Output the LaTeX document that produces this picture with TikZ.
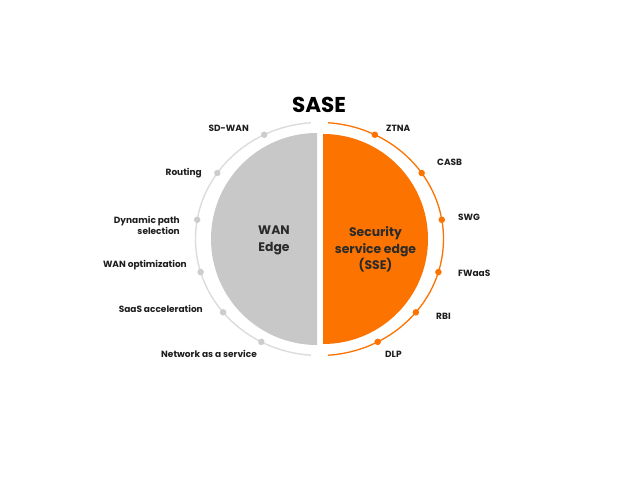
\documentclass[tikz,border=0pt]{standalone}
\usepackage{fontspec}
\setmainfont{Poppins}
\usetikzlibrary{calc}
\definecolor{wangray}{HTML}{C8C8C8}
\definecolor{arcgray}{HTML}{DCDCDC}
\definecolor{dotgray}{HTML}{CDCDCD}
\definecolor{sseorange}{HTML}{FC7300}
\definecolor{txt}{HTML}{1E1E1E}
\definecolor{intxt}{HTML}{2B2B2B}
\begin{document}
\begin{tikzpicture}[x=1pt,y=1pt,
  lbl/.style={font=\fontsize{9}{11}\selectfont\bfseries, text=txt, inner sep=0pt, align=right},
  rlbl/.style={font=\fontsize{9}{11}\selectfont\bfseries, text=txt, inner sep=0pt, align=left},
  intext/.style={font=\fontsize{12.4}{16.5}\selectfont\bfseries, text=intxt, align=center, inner sep=0pt},
  gdot/.style={circle, fill=dotgray, inner sep=0pt, minimum size=6.5pt},
  odot/.style={circle, fill=sseorange, inner sep=0pt, minimum size=6.5pt}]
\useasboundingbox (0,0) rectangle (640,-480);
\fill[white] (0,0) rectangle (640,-480);
% half disks
\fill[wangray] (317,-133) arc[start angle=90,end angle=270,radius=106pt] -- cycle;
\fill[sseorange] (323,-134) arc[start angle=90,end angle=-90,radius=105pt] -- cycle;
% centre
\coordinate (c) at (319.5,-239);
% arcs
\draw[arcgray, line width=1.4pt] ($(c)+({124*cos(94)},{116.5*sin(94)})$) arc[start angle=94,end angle=266,x radius=124pt,y radius=116.5pt];
\draw[sseorange, line width=1.3pt] ($(c)+({124*cos(86)},{116.5*sin(86)})$) arc[start angle=86,end angle=-86,x radius=124pt,y radius=116.5pt];
% dots
\foreach \a/\n in {116.5/l1,145.5/l2,170.5/l3,196.5/l4,219/l5,242/l6}{
  \node[gdot] (\n) at ($(c)+({124*cos(\a)},{116.5*sin(\a)})$) {};}
\foreach \a/\n in {63.5/r1,34.5/r2,9.5/r3,-16.5/r4,-39/r5,-62/r6}{
  \node[odot] (\n) at ($(c)+({124*cos(\a)},{116.5*sin(\a)})$) {};}
% title
\node[font=\fontsize{21.5}{24}\selectfont\bfseries, text=black, inner sep=0pt] (title) at (319,-105) {SASE};
% inner texts
\node[intext] (wan) at (274,-240.5) {WAN\\Edge};
\node[intext] (sse) at (375.5,-249.5) {Security\\service edge\\(SSE)};
% left labels
\node[lbl, anchor=east] (sdwan) at (249,-128) {SD-WAN};
\node[lbl, anchor=east] (routing) at (202,-173) {Routing};
\node[lbl, anchor=east] (dps) at (180,-225) {Dynamic path\\selection};
\node[lbl, anchor=east] (wopt) at (187,-265) {WAN optimization};
\node[lbl, anchor=east] (saas) at (203,-309) {SaaS acceleration};
\node[lbl, anchor=east] (naas) at (257,-354) {Network as a service};
% right labels
\node[rlbl, anchor=west] (ztna) at (386,-128) {ZTNA};
\node[rlbl, anchor=west] (casb) at (437,-162) {CASB};
\node[rlbl, anchor=west] (swg) at (458,-217) {SWG};
\node[rlbl, anchor=west] (fwaas) at (458,-273) {FWaaS};
\node[rlbl, anchor=west] (rbi) at (436,-316) {RBI};
\node[rlbl, anchor=west] (dlp) at (385,-354) {DLP};
\end{tikzpicture}
\end{document}
